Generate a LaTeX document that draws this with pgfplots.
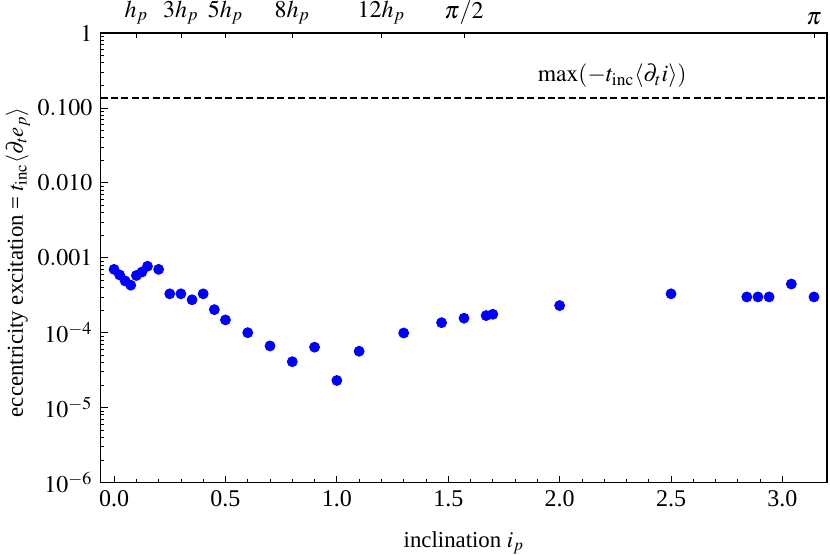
\documentclass[border=0pt]{standalone}
\usepackage{mathptmx}
\usepackage{fontspec}
\setmainfont{Liberation Serif}
\usepackage{pgfplots}
\pgfplotsset{compat=1.18}
\begin{document}
\fontsize{12}{14}\selectfont
\begin{tikzpicture}
\useasboundingbox (-50.35pt,-36.25pt) rectangle (364.65pt,241.25pt);
\begin{axis}[
  at={(0,0)}, anchor=south west,
  scale only axis, width=363.15pt, height=224.75pt,
  xmin=-0.06, xmax=3.2, ymode=log, ymin=1e-6, ymax=1,
  xtick={0,0.5,1,1.5,2,2.5,3}, xticklabels={0.0,0.5,1.0,1.5,2.0,2.5,3.0},
  minor x tick num=4,
  ytick={1e-6,1e-5,1e-4,1e-3,1e-2,1e-1,1},
  yticklabels={$10^{-6}$,$10^{-5}$,$10^{-4}$,$0.001$,$0.010$,$0.100$,$1$},
  xtick pos=left, ytick pos=left,
  tick align=inside,
  major tick length=3.5pt, minor tick length=1.8pt,
  axis line style={line width=0.6pt},
  every tick/.style={black, line width=0.4pt},
  xlabel={inclination $i_p$},
  ylabel={eccentricity excitation = $t_{\mathrm{inc}}\langle\partial_t e_p\rangle$},
  xlabel style={at={(axis description cs:0.5,-0.1346)}, anchor=center, font=\fontsize{11.4}{13}\selectfont},
  ylabel style={at={(axis description cs:-0.114,0.49)}, anchor=center, font=\fontsize{11.4}{13}\selectfont},
  clip=false,
]
\addplot[black, line width=1.15pt, dash pattern=on 3.5pt off 1.7pt] coordinates {(-0.06,0.135) (3.2,0.135)};
\addplot[only marks, mark=*, mark size=2.5pt, color=blue] coordinates {
(0,7.0e-4) (0.025,5.9e-4) (0.05,4.9e-4) (0.075,4.3e-4) (0.1,5.8e-4)
(0.125,6.45e-4) (0.15,7.7e-4) (0.2,7.0e-4) (0.25,3.3e-4) (0.3,3.3e-4)
(0.35,2.75e-4) (0.4,3.3e-4) (0.45,2.03e-4) (0.5,1.48e-4) (0.6,1.0e-4)
(0.7,6.65e-5) (0.8,4.1e-5) (0.9,6.4e-5) (1.0,2.3e-5) (1.1,5.65e-5)
(1.3,9.9e-5) (1.47,1.36e-4) (1.5708,1.56e-4) (1.67,1.69e-4) (1.7,1.76e-4)
(2.0,2.3e-4) (2.5,3.3e-4) (2.84,3.0e-4) (2.89,3.0e-4) (2.94,3.0e-4)
(3.04,4.46e-4) (3.1416,3.0e-4)
};
\node[font=\fontsize{11.8}{14}\selectfont] at (axis cs:2.236,0.27) {$\max(-t_{\mathrm{inc}}\langle\partial_t i\rangle)$};
\end{axis}
\begin{axis}[
  at={(0,0)}, anchor=south west,
  scale only axis, width=363.15pt, height=224.75pt,
  xmin=-0.06, xmax=3.2, ymin=0, ymax=1,
  axis x line*=top, axis y line=none,
  xtick={0.1,0.3,0.5,0.8,1.2,1.5708,3.14159},
  xticklabels={$h_p$,$3h_p$,$5h_p$,$8h_p$,$12h_p$,$\pi/2$,$\pi$},
  tick align=inside, major tick length=2.5pt,
  every tick/.style={black, line width=0.4pt},
  axis line style={line width=0.6pt, -},
]
\end{axis}
\end{tikzpicture}
\end{document}
